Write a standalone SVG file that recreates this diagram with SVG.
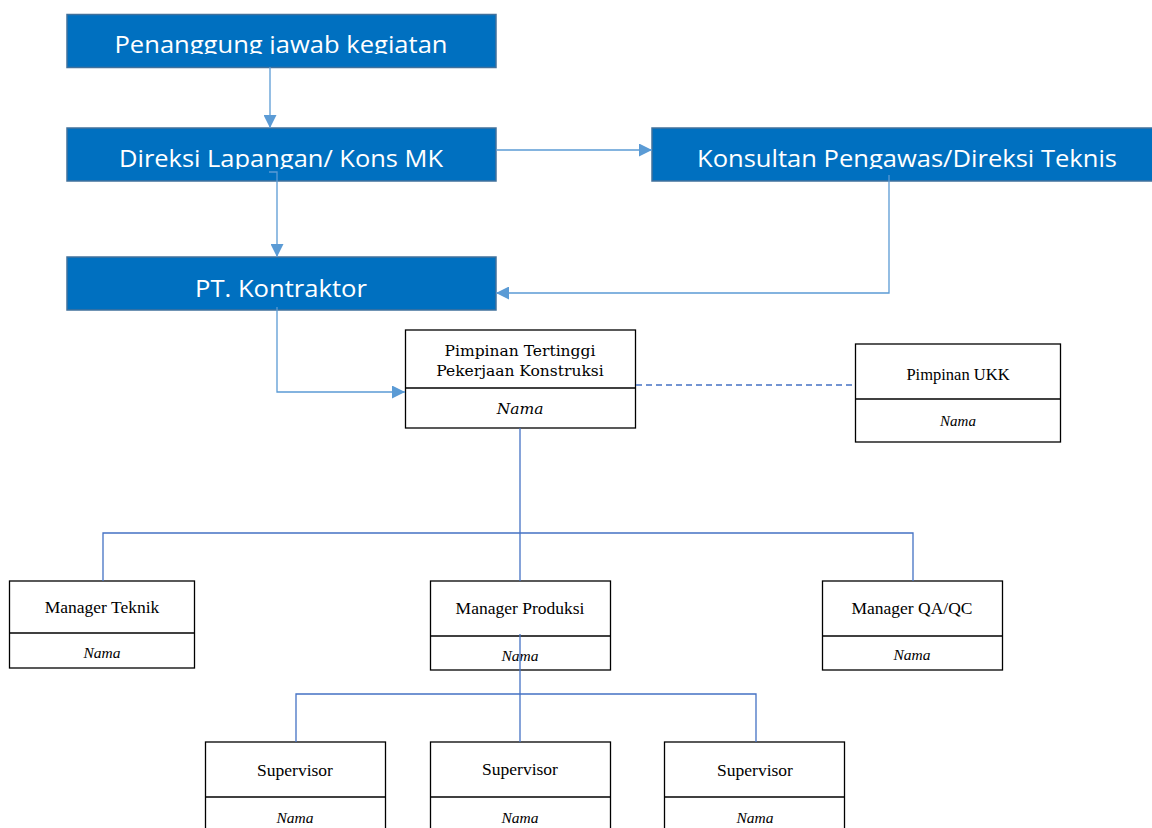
<svg xmlns="http://www.w3.org/2000/svg" width="1152" height="828" viewBox="0 0 1152 828">
<style>
.bb{fill:#0070C0;stroke:#41719C;stroke-width:1.5}
.bt{fill:#FFFFFF;font-family:"Open Sans","Liberation Sans",sans-serif;font-size:24px;text-anchor:middle}
.wb{fill:#FFFFFF;stroke:#000000;stroke-width:1.3}
.dv{stroke:#000000;stroke-width:1.3}
.st{fill:#000000;font-family:"Liberation Serif",serif;font-size:17.5px;text-anchor:middle}
.sd{fill:#000000;font-family:"DejaVu Serif",serif;font-size:15.5px;text-anchor:middle}
.it{font-style:italic;font-size:15.5px}
.c1{fill:none;stroke:#5B9BD5;stroke-width:1.3}
.c2{fill:none;stroke:#4472C4;stroke-width:1.3}
</style>
<defs>
<marker id="ah" viewBox="0 0 10 10" refX="10" refY="5" markerWidth="15" markerHeight="13" markerUnits="userSpaceOnUse" orient="auto">
<path d="M0,0 L10,5 L0,10 Z" fill="#5B9BD5"/>
</marker>
<clipPath id="k1"><rect x="67" y="14" width="430" height="40"/></clipPath>
<clipPath id="k2"><rect x="67" y="128" width="430" height="41"/></clipPath>
<clipPath id="k3"><rect x="652" y="128" width="500" height="41"/></clipPath>
</defs>
<rect width="1152" height="828" fill="#FFFFFF"/>

<g id="penanggung">
<rect class="bb" x="67" y="14.5" width="429" height="53"/>
<text class="bt" x="281" y="53" textLength="333" lengthAdjust="spacingAndGlyphs" clip-path="url(#k1)">Penanggung jawab kegiatan</text>
</g>
<g id="direksi">
<rect class="bb" x="67" y="128" width="429" height="53"/>
<text class="bt" x="281" y="167" textLength="324" lengthAdjust="spacingAndGlyphs" clip-path="url(#k2)">Direksi Lapangan/ Kons MK</text>
</g>
<g id="konsultan">
<rect class="bb" x="652" y="128" width="502" height="53"/>
<text class="bt" x="907" y="167" textLength="420" lengthAdjust="spacingAndGlyphs" clip-path="url(#k3)">Konsultan Pengawas/Direksi Teknis</text>
</g>
<g id="kontraktor">
<rect class="bb" x="67" y="257" width="429" height="53"/>
<text class="bt" x="281" y="297" textLength="172" lengthAdjust="spacingAndGlyphs">PT. Kontraktor</text>
</g>

<g id="pimpinan-tertinggi">
<rect class="wb" x="405.5" y="330" width="230" height="98"/>
<line class="dv" x1="405.5" y1="388" x2="635.5" y2="388"/>
<text class="sd" x="520" y="356">Pimpinan Tertinggi</text>
<text class="sd" x="520" y="376">Pekerjaan Konstruksi</text>
<text class="sd it" x="520" y="414">Nama</text>
</g>
<g id="pimpinan-ukk">
<rect class="wb" x="855.5" y="344" width="205" height="98"/>
<line class="dv" x1="855.5" y1="399" x2="1060.5" y2="399"/>
<text class="st" x="958" y="380" style="font-size:16.5px">Pimpinan UKK</text>
<text class="st it" x="958" y="426" style="font-size:15px">Nama</text>
</g>
<g id="manager-teknik">
<rect class="wb" x="9.5" y="581" width="185" height="87"/>
<line class="dv" x1="9.5" y1="633" x2="194.5" y2="633"/>
<text class="st" x="102" y="613">Manager Teknik</text>
<text class="st it" x="102" y="658">Nama</text>
</g>
<g id="manager-produksi">
<rect class="wb" x="430.5" y="581" width="180" height="89"/>
<line class="dv" x1="430.5" y1="636" x2="610.5" y2="636"/>
<text class="st" x="520" y="614">Manager Produksi</text>
<text class="st it" x="520" y="661">Nama</text>
</g>
<g id="manager-qaqc">
<rect class="wb" x="822.5" y="581" width="180" height="89"/>
<line class="dv" x1="822.5" y1="636" x2="1002.5" y2="636"/>
<text class="st" x="912" y="614">Manager QA/QC</text>
<text class="st it" x="912" y="660">Nama</text>
</g>
<g id="supervisor-1">
<rect class="wb" x="205.5" y="742" width="180" height="100"/>
<line class="dv" x1="205.5" y1="797" x2="385.5" y2="797"/>
<text class="st" x="295" y="776">Supervisor</text>
<text class="st it" x="295" y="823">Nama</text>
</g>
<g id="supervisor-2">
<rect class="wb" x="430.5" y="742" width="180" height="100"/>
<line class="dv" x1="430.5" y1="797" x2="610.5" y2="797"/>
<text class="st" x="520" y="775">Supervisor</text>
<text class="st it" x="520" y="823">Nama</text>
</g>
<g id="supervisor-3">
<rect class="wb" x="664.5" y="742" width="180" height="100"/>
<line class="dv" x1="664.5" y1="797" x2="844.5" y2="797"/>
<text class="st" x="755" y="776">Supervisor</text>
<text class="st it" x="755" y="823">Nama</text>
</g>

<g id="connectors">
<path class="c1" d="M270,67 V128" marker-end="url(#ah)"/>
<path class="c1" d="M496,150 H652" marker-end="url(#ah)"/>
<path class="c1" d="M269,172 H277 V257" marker-end="url(#ah)"/>
<path class="c1" d="M889,175 V293 H496" marker-end="url(#ah)"/>
<path class="c1" d="M277,307 V392 H405" marker-end="url(#ah)"/>
<path class="c2" d="M636,385 H855" stroke-dasharray="6,4"/>
<path class="c2" d="M520,428 V581"/>
<path class="c2" d="M103,581 V533 H913 V581"/>
<path class="c2" d="M520,634 V742"/>
<path class="c2" d="M296,742 V694 H756 V742"/>
</g>
</svg>
